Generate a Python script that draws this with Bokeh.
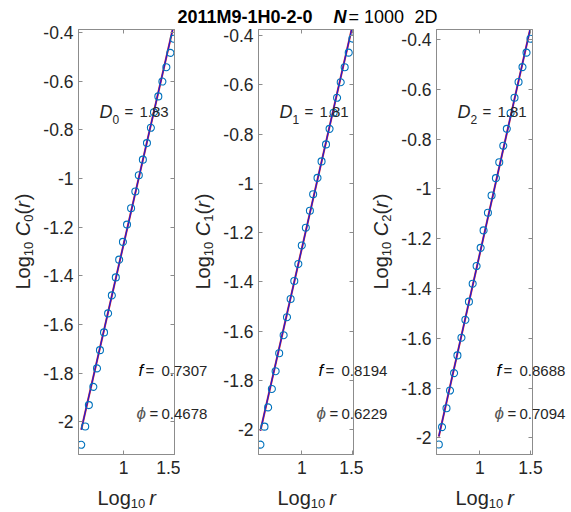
import math
from bokeh.plotting import figure
from bokeh.layouts import row
from bokeh.models import Range1d, FixedTicker, LinearAxis, CustomJSTickFormatter, Label, GridBox
from bokeh.embed import file_html
from bokeh.resources import INLINE

# ---------------- data ----------------
run_id = "2011M9-1H0-2-0"
n_label = "= 1000"
dim_label = "2D"

log_r_0 = [0.583, 0.622, 0.658, 0.702, 0.738, 0.767, 0.807, 0.847, 0.884, 0.923, 0.956, 0.993, 1.033,
           1.073, 1.115, 1.149, 1.189, 1.229, 1.268, 1.298, 1.341, 1.381, 1.420, 1.460, 1.493]
log_c_0 = [-2.095, -2.020, -1.932, -1.857, -1.781, -1.706, -1.633, -1.555, -1.481, -1.407, -1.334, -1.261,
           -1.190, -1.123, -1.054, -0.987, -0.923, -0.855, -0.792, -0.728, -0.663, -0.602, -0.543, -0.484, -0.426]

log_r_1 = [0.592, 0.632, 0.668, 0.705, 0.742, 0.777, 0.821, 0.854, 0.890, 0.926, 0.966, 1.000, 1.040,
           1.080, 1.112, 1.155, 1.195, 1.239, 1.274, 1.314, 1.348, 1.384, 1.423, 1.463, 1.500]
log_c_1 = [-2.060, -1.987, -1.909, -1.834, -1.762, -1.689, -1.616, -1.543, -1.469, -1.396, -1.327, -1.252,
           -1.180, -1.111, -1.044, -0.978, -0.911, -0.842, -0.779, -0.714, -0.653, -0.590, -0.529, -0.470, -0.413]

log_r_2 = [0.593, 0.625, 0.669, 0.704, 0.744, 0.777, 0.817, 0.856, 0.891, 0.928, 0.967, 1.007, 1.036,
           1.079, 1.115, 1.158, 1.191, 1.231, 1.266, 1.303, 1.342, 1.382, 1.421, 1.461, 1.500]
log_c_2 = [-2.027, -1.957, -1.881, -1.810, -1.740, -1.669, -1.598, -1.526, -1.453, -1.381, -1.310, -1.237,
           -1.167, -1.096, -1.027, -0.957, -0.893, -0.827, -0.759, -0.696, -0.634, -0.571, -0.511, -0.453, -0.397]

dims = [1.83, 1.81, 1.81]
dim_text = ["1.83", "1.81", "1.81"]
fit_intercepts = [-3.100, -3.075, -3.068]
f_text = ["0.7307", "0.8194", "0.8688"]
phi_text = ["0.4678", "0.6229", "0.7094"]
subscripts = ["0", "1", "2"]

x_limits = [(0.556, 1.500), (0.573, 1.510), (0.570, 1.520)]
y_limits = [(-2.135, -0.388), (-2.100, -0.376), (-2.067, -0.360)]
y_ticks = [-2.0, -1.8, -1.6, -1.4, -1.2, -1.0, -0.8, -0.6, -0.4]
x_ticks = [0.5, 1.0, 1.5]

series_x = [log_r_0, log_r_1, log_r_2]
series_y = [log_c_0, log_c_1, log_c_2]

# ---------------- style / layout ----------------
FONT = "Liberation Sans"
GRAY = "#8c8c8c"
TXT = "#262626"
MARK = "#0072BD"
W, H = 571, 512
FRAME_TOP = 29
FRAME_H = 425
borders = [(78, 96, 6), (78, 95, 10), (73, 96, 39)]   # left border, frame width, right border

fmt = CustomJSTickFormatter(code="return String(Math.round(tick*10)/10);")


def make_panel(i):
    left, fw, right = borders[i]
    xs, ys = series_x[i], series_y[i]
    p = figure(frame_width=fw, frame_height=FRAME_H,
               min_border_left=left, min_border_right=right,
               min_border_top=FRAME_TOP, min_border_bottom=H - FRAME_TOP - FRAME_H,
               x_range=Range1d(*x_limits[i]), y_range=Range1d(*y_limits[i]),
               toolbar_location=None, output_backend="svg",
               background_fill_color="white", border_fill_color="white")
    p.xgrid.visible = False
    p.ygrid.visible = False
    p.outline_line_color = GRAY
    p.outline_line_width = 1

    for ax, ticks in ((p.xaxis[0], x_ticks), (p.yaxis[0], y_ticks)):
        ax.ticker = FixedTicker(ticks=ticks)
        ax.formatter = fmt
        ax.major_tick_in = 4
        ax.major_tick_out = 0
        ax.minor_tick_line_color = None
        ax.axis_line_color = GRAY
        ax.major_tick_line_color = GRAY
        ax.major_label_text_font = FONT
        ax.major_label_text_font_size = "17.5px"
        ax.major_label_text_color = TXT
    p.xaxis[0].major_label_standoff = 6
    p.yaxis[0].major_label_standoff = 5

    for loc, ticks in (("right", y_ticks), ("above", x_ticks)):
        ax = LinearAxis(ticker=FixedTicker(ticks=ticks), major_tick_in=4, major_tick_out=0,
                        major_label_text_alpha=0, major_label_text_font_size="1px",
                        major_label_standoff=0,
                        axis_line_color=GRAY, major_tick_line_color=GRAY,
                        minor_tick_line_color=None)
        p.add_layout(ax, loc)

    # fitted line
    fx = [xs[0], xs[-1]]
    fy = [dims[i] * x + fit_intercepts[i] for x in fx]
    p.line(fx, fy, line_color="#e03030", line_width=2.0)
    p.line(fx, fy, line_color="#1c1cd8", line_width=1.2)

    # data points
    p.scatter(xs, ys, marker="circle", size=7, fill_color=None,
              line_color=MARK, line_width=1.1)
    return p


panels = [make_panel(i) for i in range(3)]
main = row(*panels, spacing=0)

# transparent overlay in page pixels for all free texts (not clipped by the frames)
ov = figure(width=W, height=H, x_range=Range1d(0, W), y_range=Range1d(0, H),
            toolbar_location=None, output_backend="svg", min_border=0,
            x_axis_location=None, y_axis_location=None,
            background_fill_color=None, border_fill_color=None)
ov.outline_line_color = None
ov.xgrid.visible = False
ov.ygrid.visible = False


def put(s, px, py, size, style="normal", color=TXT, baseline="middle", angle=0.0):
    ov.add_layout(Label(x=px, y=H - py, text=s, text_font=FONT, text_font_size=f"{size}px",
                        text_font_style=style, text_color=color, angle=angle,
                        text_baseline=baseline, text_align="left"))


def em(s, size):
    widths = {"L": .556, "o": .556, "g": .556, "C": .722, "(": .333, ")": .333, "r": .333, " ": .278}
    return sum(widths.get(c, .556) for c in s) * size


# title
put(run_id, 177, 16.5, 18, "bold", "black")
put("N", 333, 16.5, 18, "bold italic", "black")
put(n_label, 348, 16.5, 18, "normal", "black")
put(dim_label, 414, 16.5, 18, "normal", "black")

frame_lefts = []
acc = 0
for left, fw, right in borders:
    frame_lefts.append(acc + left)
    acc += left + fw + right

MAIN = 20
SUB = 13
for i, fl in enumerate(frame_lefts):
    # in-panel annotations
    put("D", fl + 21, FRAME_TOP + 82, 18, "italic")
    put(subscripts[i], fl + 34, FRAME_TOP + 90, 12)
    put("=", fl + 46, FRAME_TOP + 82, 15)
    put(dim_text[i], fl + 61, FRAME_TOP + 82, 15)
    put("f", fl + 60, FRAME_TOP + 341, 17, "italic", "black")
    put("=", fl + 67, FRAME_TOP + 341, 15)
    put(f_text[i], fl + 83, FRAME_TOP + 341, 15)
    put("\u03d5", fl + 58, FRAME_TOP + 384, 17, "italic", "#555555")
    put("=", fl + 71, FRAME_TOP + 384, 15)
    put(phi_text[i], fl + 83, FRAME_TOP + 384, 15)

    # x axis label: Log_10 r
    bx, by = fl + 19, 497
    put("Log", bx, by, MAIN, baseline="alphabetic")
    bx += em("Log", MAIN)
    put("10", bx, by + 6, SUB, baseline="alphabetic")
    bx += em("10", SUB) + 4
    put("r", bx, by, MAIN, "italic", baseline="alphabetic")

    # y axis label (rotated): Log_10 C_i(r)
    bx = fl - 56
    total = (em("Log", MAIN) + em("10", SUB) + em(" C", MAIN) + em("0", SUB) + em("(r)", MAIN))
    y = FRAME_TOP + FRAME_H / 2 + total / 2
    rot = math.pi / 2
    put("Log", bx, y, MAIN, baseline="alphabetic", angle=rot)
    y -= em("Log", MAIN)
    put("10", bx + 6, y, SUB, baseline="alphabetic", angle=rot)
    y -= em("10", SUB) + em(" ", MAIN)
    put("C", bx, y, MAIN, "italic", baseline="alphabetic", angle=rot)
    y -= em("C", MAIN)
    put(subscripts[i], bx + 6, y, SUB, baseline="alphabetic", angle=rot)
    y -= em("0", SUB)
    put("(", bx, y, MAIN, baseline="alphabetic", angle=rot)
    y -= em("(", MAIN)
    put("r", bx, y, MAIN, "italic", baseline="alphabetic", angle=rot)
    y -= em("r", MAIN) + 1
    put(")", bx, y, MAIN, baseline="alphabetic", angle=rot)

layout = GridBox(children=[(main, 0, 0), (ov, 0, 0)])
open("out.html", "w").write(file_html(layout, INLINE))
